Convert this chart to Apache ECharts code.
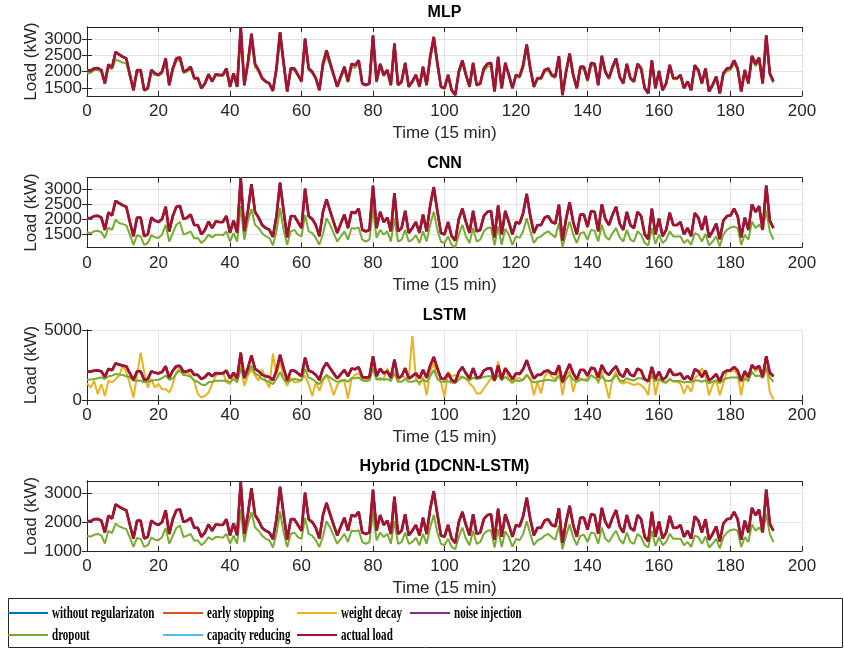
<!DOCTYPE html>
<html>
<head>
<meta charset="utf-8">
<script src="https://cdn.jsdelivr.net/npm/echarts@6/dist/echarts.min.js"></script>
<style>
html, body { margin: 0; padding: 0; background: #fff; }
#chart { width: 844px; height: 649px; }
</style>
</head>
<body>
<div id="chart"></div>
<script>
// measured load, one point per 15 min step (0..192)
var actualLoad = [
    2030, 2030, 2100, 2110, 2050, 1640, 2220, 2120, 2610, 2530,
    2460, 2410, 1900, 1430, 2050, 2050, 1430, 1490, 2050, 1950,
    1900, 2000, 2410, 1590, 2100, 2410, 2440, 2000, 2050, 2150,
    1800, 1800, 1490, 1640, 1920, 1700, 1920, 1900, 1900, 2100,
    1540, 1950, 1540, 3380, 1590, 2270, 3170, 2240, 2050, 1800,
    1700, 1640, 1410, 2100, 3220, 2270, 1390, 2100, 2100, 1900,
    1700, 3020, 2100, 2000, 1800, 1430, 2240, 2660, 2270, 1900,
    1540, 1850, 2150, 1700, 2240, 2200, 2350, 1640, 1590, 1640,
    3120, 1700, 2240, 1900, 2050, 1590, 2870, 1590, 1700, 2270,
    1540, 1700, 1900, 1540, 2150, 1590, 2460, 3070, 2270, 1540,
    1490, 1900, 1430, 1280, 2000, 2350, 1900, 1540, 2270, 1590,
    1640, 2100, 2240, 2270, 1390, 2460, 1490, 2270, 1900, 1490,
    1900, 1850, 2200, 2840, 2100, 1540, 1800, 1800, 2050, 2100,
    1900, 1850, 2480, 1280, 2000, 2560, 1900, 1490, 2150, 2150,
    1740, 2270, 2240, 1590, 2490, 2000, 1800, 2150, 2410, 1850,
    1640, 2240, 1800, 1700, 2240, 2100, 1490, 1330, 2350, 1490,
    2020, 1430, 1640, 2210, 1800, 1800, 1900, 1490, 1700, 1430,
    2200, 2050, 1640, 2100, 1390, 1590, 1850, 1330, 1950, 2100,
    2120, 2350, 2100, 1390, 2050, 1640, 2490, 2240, 2430, 1640,
    3120, 1950, 1700
];

// dropout predictions, read per panel
var mlpDropout = [
    1950, 1960, 2050, 2060, 2000, 1620, 2150, 2080, 2380, 2330,
    2280, 2250, 1850, 1420, 1980, 2000, 1420, 1470, 1980, 1900,
    1880, 1950, 2330, 1560, 2050, 2330, 2360, 1960, 2000, 2100,
    1770, 1780, 1480, 1620, 1880, 1680, 1880, 1870, 1870, 2050,
    1520, 1900, 1520, 3150, 1560, 2200, 2900, 2150, 2000, 1770,
    1680, 1620, 1400, 2050, 3000, 2200, 1380, 2050, 2050, 1870,
    1680, 2850, 2050, 1960, 1770, 1420, 2150, 2500, 2200, 1860,
    1520, 1810, 2050, 1670, 2150, 2120, 2250, 1620, 1570, 1620,
    2950, 1670, 2150, 1860, 2000, 1570, 2750, 1570, 1670, 2200,
    1520, 1670, 1860, 1520, 2080, 1570, 2380, 2950, 2200, 1520,
    1480, 1860, 1420, 1280, 1950, 2250, 1860, 1520, 2200, 1570,
    1620, 2020, 2150, 2180, 1380, 2380, 1480, 2200, 1860, 1480,
    1860, 1810, 2120, 2750, 2050, 1520, 1770, 1770, 1990, 2050,
    1860, 1810, 2400, 1280, 1950, 2480, 1860, 1480, 2080, 2080,
    1700, 2200, 2170, 1570, 2400, 1950, 1770, 2080, 2330, 1810,
    1620, 2170, 1770, 1670, 2170, 2050, 1480, 1320, 2270, 1480,
    1970, 1420, 1620, 2140, 1770, 1770, 1860, 1480, 1670, 1420,
    2120, 2000, 1620, 2050, 1380, 1570, 1810, 1320, 1900, 2020,
    2050, 2250, 2050, 1380, 1990, 1620, 2400, 2170, 2330, 1620,
    2950, 1900, 1660
];

var cnnDropout = [
    1560, 1530, 1590, 1610, 1560, 1370, 1720, 1640, 1980, 1870,
    1830, 1790, 1480, 1140, 1460, 1420, 1140, 1200, 1460, 1390,
    1370, 1480, 1810, 1250, 1530, 1810, 1900, 1480, 1530, 1590,
    1350, 1370, 1200, 1310, 1480, 1390, 1480, 1480, 1460, 1590,
    1250, 1530, 1250, 2430, 1310, 1920, 2340, 1810, 1700, 1530,
    1420, 1370, 1120, 1590, 2370, 1640, 1140, 1590, 1640, 1480,
    1420, 2140, 1590, 1530, 1370, 1140, 1500, 2030, 1810, 1530,
    1250, 1420, 1590, 1310, 1700, 1680, 1720, 1310, 1250, 1310,
    2340, 1370, 1640, 1480, 1590, 1250, 2030, 1250, 1310, 1640,
    1250, 1310, 1460, 1200, 1590, 1250, 1810, 2250, 1640, 1250,
    1200, 1420, 1140, 1060, 1480, 1810, 1420, 1200, 1700, 1250,
    1310, 1590, 1700, 1720, 1120, 1750, 1140, 1680, 1480, 1140,
    1420, 1370, 1590, 2030, 1590, 1200, 1370, 1420, 1530, 1590,
    1480, 1390, 1870, 1060, 1530, 1920, 1480, 1200, 1530, 1560,
    1310, 1640, 1610, 1250, 1810, 1420, 1310, 1530, 1700, 1390,
    1250, 1640, 1310, 1250, 1590, 1480, 1200, 1120, 1700, 1170,
    1480, 1200, 1310, 1590, 1420, 1420, 1420, 1200, 1310, 1140,
    1530, 1480, 1250, 1500, 1120, 1250, 1420, 1090, 1480, 1640,
    1720, 1750, 1700, 1140, 1480, 1310, 1920, 1700, 1810, 1640,
    2280, 1590, 1310
];

var lstmDropout = [
    1450, 1470, 1500, 1560, 1620, 1500, 1700, 1740, 1860, 1820,
    1790, 1700, 1620, 1380, 1400, 1380, 1260, 1300, 1380, 1420,
    1450, 1550, 1740, 1450, 1550, 1900, 2100, 1800, 1740, 1650,
    1380, 1300, 1100, 1060, 1260, 1300, 1380, 1380, 1380, 1400,
    1260, 1500, 1260, 2220, 1500, 1900, 2460, 1900, 1740, 1500,
    1380, 1300, 1140, 1500, 1980, 1500, 1260, 1400, 1500, 1450,
    1380, 2220, 1600, 1500, 1300, 1140, 1500, 1790, 1600, 1430,
    1300, 1350, 1450, 1300, 1550, 1550, 1600, 1400, 1350, 1400,
    2270, 1450, 1550, 1450, 1500, 1350, 1900, 1300, 1300, 1500,
    1300, 1300, 1400, 1250, 1450, 1300, 1700, 2150, 1500, 1300,
    1300, 1350, 1250, 1200, 1450, 1650, 1500, 1400, 1600, 1500,
    1550, 1650, 1700, 1700, 1350, 1800, 1400, 1650, 1450, 1300,
    1400, 1350, 1450, 1800, 1450, 1250, 1300, 1350, 1400, 1450,
    1400, 1350, 1750, 1200, 1500, 1790, 1450, 1300, 1450, 1450,
    1350, 1790, 1600, 1350, 1700, 1400, 1350, 1450, 1790, 1400,
    1350, 1550, 1450, 1400, 1550, 1550, 1450, 1350, 1700, 1350,
    1500, 1300, 1300, 1450, 1350, 1350, 1350, 1250, 1300, 1250,
    1400, 1400, 1300, 1400, 1200, 1300, 1400, 1200, 1450, 1550,
    1600, 1600, 1600, 1300, 1500, 1400, 2000, 1700, 1750, 1600,
    2270, 1600, 1300
];

var hybridDropout = [
    1520, 1500, 1560, 1590, 1540, 1260, 1700, 1620, 1950, 1850,
    1800, 1760, 1460, 1140, 1450, 1420, 1140, 1200, 1460, 1390,
    1370, 1480, 1800, 1250, 1530, 1800, 1880, 1480, 1530, 1590,
    1350, 1370, 1200, 1310, 1480, 1390, 1480, 1480, 1460, 1590,
    1250, 1530, 1250, 2430, 1310, 1920, 2340, 1810, 1700, 1530,
    1420, 1370, 1120, 1590, 2370, 1640, 1140, 1590, 1640, 1480,
    1420, 2140, 1590, 1530, 1370, 1140, 1500, 2030, 1810, 1530,
    1250, 1420, 1590, 1310, 1700, 1680, 1720, 1310, 1250, 1310,
    2340, 1370, 1640, 1480, 1590, 1250, 2030, 1250, 1310, 1640,
    1250, 1310, 1460, 1200, 1590, 1250, 1810, 2250, 1640, 1250,
    1200, 1420, 1140, 1060, 1480, 1810, 1420, 1200, 1700, 1250,
    1310, 1590, 1700, 1720, 1120, 1750, 1140, 1680, 1480, 1140,
    1420, 1370, 1590, 2030, 1590, 1200, 1370, 1420, 1530, 1590,
    1480, 1390, 1870, 1060, 1530, 1920, 1480, 1200, 1530, 1560,
    1310, 1640, 1610, 1250, 1810, 1420, 1310, 1530, 1700, 1390,
    1250, 1640, 1310, 1250, 1590, 1480, 1200, 1120, 1700, 1170,
    1480, 1200, 1310, 1590, 1420, 1420, 1420, 1200, 1310, 1140,
    1530, 1480, 1250, 1500, 1120, 1250, 1420, 1090, 1480, 1640,
    1720, 1750, 1700, 1140, 1480, 1310, 1920, 1700, 1810, 1640,
    2280, 1590, 1310
];

// weight decay only strays from the load in the LSTM panel
var lstmWeightDecay = [
    1210, 890, 1380, 410, 1140, 290, 1380, 1260, 1500, 1740,
    2460, 1980, 1140, 170, 1740, 3380, 1980, 890, 1500, 890,
    1140, 770, 770, 530, 1140, 1980, 2340, 1740, 1980, 1740,
    1380, 410, 170, 290, 530, 1140, 1740, 1860, 1980, 1260,
    1140, 1740, 1380, 2460, 1010, 1740, 2220, 1740, 1380, 2220,
    1380, 890, 3310, 1740, 2830, 1500, 1010, 1620, 1260, 1260,
    1500, 1740, 1140, 290, 1260, 650, 1380, 1790, 1180, 340,
    1060, 1430, 1300, 100, 1550, 1790, 1910, 1550, 1430, 1430,
    2750, 1550, 1430, 1550, 2270, 1430, 2030, 1300, 1790, 1550,
    1550, 4570, 1550, 1060, 1670, 340, 2030, 2630, 1550, 1300,
    220, 2030, 1670, 1790, 1670, 1670, 1550, 1180, 940, 460,
    460, 820, 1180, 1550, 1430, 2750, 1550, 2270, 1430, 1180,
    1550, 1550, 1430, 1790, 1550, 340, 1300, 460, 1670, 2030,
    1670, 1430, 2270, 340, 1790, 2030, 580, 1550, 1550, 1430,
    1550, 2390, 2270, 1180, 2030, 1180, 100, 1550, 2030, 1300,
    1180, 1300, 1180, 1060, 1180, 1060, 820, 340, 2390, 340,
    1550, 1300, 1180, 1550, 1300, 1300, 1180, 460, 1060, 580,
    1550, 1790, 2270, 1670, 340, 1060, 1430, 340, 1180, 2030,
    2030, 2150, 1790, 340, 1790, 1300, 2510, 2030, 2270, 1550,
    2390, 580, 50
];

var seriesNames = ['without regularizaton', 'early stopping', 'weight decay', 'noise injection',
    'dropout', 'capacity reducing', 'actual load'];
var colors = ['#0072bd', '#d95319', '#edb120', '#7e2f8e', '#77ac30', '#4dbeee', '#a2142f'];

// which array each series uses in each panel (same order as seriesNames)
var panels = [
    {title: 'MLP', top: 27, height: 69, yMin: 1250, yMax: 3380, yTicks: [1500, 2000, 2500, 3000],
        data: [actualLoad, actualLoad, actualLoad, actualLoad, mlpDropout, actualLoad, actualLoad]},
    {title: 'CNN', top: 177.5, height: 70, yMin: 1050, yMax: 3390, yTicks: [1500, 2000, 2500, 3000],
        data: [actualLoad, actualLoad, actualLoad, actualLoad, cnnDropout, actualLoad, actualLoad]},
    {title: 'LSTM', top: 330, height: 70, yMin: 0, yMax: 5000, yTicks: [0, 5000],
        data: [actualLoad, actualLoad, lstmWeightDecay, actualLoad, lstmDropout, actualLoad, actualLoad]},
    {title: 'Hybrid (1DCNN-LSTM)', top: 481, height: 70, yMin: 1000, yMax: 3420, yTicks: [1000, 2000, 3000],
        data: [actualLoad, actualLoad, actualLoad, actualLoad, hybridDropout, actualLoad, actualLoad]}
];

var axisColor = '#262626';
var gridColor = '#e3e3e3';
var sans = '"Liberation Sans", Arial, sans-serif';
var plotLeft = 87, plotWidth = 715;

function plainNumber(v) { return String(v); }

// y labels sit closer than ECharts lets one axis show, so split them over two stacked axes
function yLabelAxis(k, p, values, withLine) {
    return {
        gridIndex: k, type: 'value', min: p.yMin, max: p.yMax,
        name: withLine ? 'Load (kW)' : '', nameLocation: 'middle', nameGap: 47, nameMoveOverlap: false,
        nameTextStyle: {fontFamily: sans, fontSize: 17, color: axisColor},
        axisLine: {show: withLine, lineStyle: {color: axisColor, width: 1}},
        axisTick: {show: withLine, inside: true, length: 5, customValues: p.yTicks, lineStyle: {color: axisColor}},
        axisLabel: {margin: 5, customValues: values, hideOverlap: false, showMinLabel: true, showMaxLabel: true,
            formatter: plainNumber, fontFamily: sans, fontSize: 17, color: axisColor},
        splitLine: {show: withLine, lineStyle: {color: gridColor, width: 1}}
    };
}

var grids = [], xAxes = [], yAxes = [], titles = [], series = [];
panels.forEach(function (p, k) {
    grids.push({left: plotLeft, top: p.top, width: plotWidth, height: p.height});
    titles.push({
        text: p.title, left: plotLeft + plotWidth / 2, top: p.top - 22, textAlign: 'center', padding: 0,
        textStyle: {fontFamily: sans, fontSize: 16, fontWeight: 'bold', color: '#000'}
    });
    xAxes.push({
        gridIndex: k, type: 'value', min: 0, max: 200, interval: 20,
        name: 'Time (15 min)', nameLocation: 'middle', nameGap: 29,
        nameTextStyle: {fontFamily: sans, fontSize: 17, color: axisColor},
        axisLine: {lineStyle: {color: axisColor, width: 1}},
        axisTick: {inside: true, length: 5, lineStyle: {color: axisColor}},
        axisLabel: {margin: 7, fontFamily: sans, fontSize: 17, color: axisColor, formatter: plainNumber},
        splitLine: {show: true, lineStyle: {color: gridColor, width: 1}}
    });
    xAxes.push({
        gridIndex: k, type: 'value', min: 0, max: 200, interval: 20, position: 'top',
        axisLine: {lineStyle: {color: axisColor, width: 1}},
        axisTick: {inside: true, length: 5, lineStyle: {color: axisColor}},
        axisLabel: {show: false}, splitLine: {show: false}
    });
    var evenTicks = p.yTicks.filter(function (v, i) { return i % 2 === 0; });
    var oddTicks = p.yTicks.filter(function (v, i) { return i % 2 === 1; });
    yAxes.push(yLabelAxis(k, p, evenTicks, true));
    yAxes.push({
        gridIndex: k, type: 'value', min: p.yMin, max: p.yMax, position: 'right',
        axisLine: {show: true, lineStyle: {color: axisColor, width: 1}},
        axisTick: {show: true, inside: true, length: 5, customValues: p.yTicks, lineStyle: {color: axisColor}},
        axisLabel: {show: false}, splitLine: {show: false}
    });
    var alt = yLabelAxis(k, p, oddTicks, false);
    alt.position = 'left';
    alt.axisLabel.show = oddTicks.length > 0;
    yAxes.push(alt);
    p.data.forEach(function (arr, s) {
        series.push({
            name: seriesNames[s], type: 'line',
            xAxisIndex: 2 * k, yAxisIndex: 3 * k,
            showSymbol: false, symbol: 'none', clip: true,
            lineStyle: {color: colors[s], width: s === 6 ? 2.8 : 2},
            itemStyle: {color: colors[s]},
            data: arr.map(function (v, i) { return [i, v]; })
        });
    });
});

// legend box drawn the MATLAB way: fixed columns, two rows
var legendCols = [8, 163, 297, 410];
var legendRows = [613, 635];
var legendSlots = [[0, 0], [1, 0], [2, 0], [3, 0], [0, 1], [1, 1], [2, 1]];
var graphics = [{
    type: 'rect', shape: {x: 8.5, y: 598.5, width: 834, height: 49},
    style: {fill: '#fff', stroke: axisColor, lineWidth: 1}
}];
seriesNames.forEach(function (name, s) {
    var cx = legendCols[legendSlots[s][0]], cy = legendRows[legendSlots[s][1]];
    graphics.push({
        type: 'line', shape: {x1: cx, y1: cy, x2: cx + 40, y2: cy},
        style: {stroke: colors[s], lineWidth: 2}
    });
    graphics.push({
        type: 'text', x: cx + 44, y: cy, scaleX: 0.63,
        style: {text: name, x: 0, y: 0, fill: '#000', fontSize: 17.5, fontWeight: 'bold',
            fontFamily: '"Liberation Serif", "Times New Roman", serif', verticalAlign: 'middle'}
    });
});

var myChart = echarts.init(document.getElementById('chart'));
myChart.setOption({
    animation: false,
    backgroundColor: '#fff',
    title: titles,
    grid: grids,
    xAxis: xAxes,
    yAxis: yAxes,
    series: series,
    graphic: graphics
});
</script>
</body>
</html>
